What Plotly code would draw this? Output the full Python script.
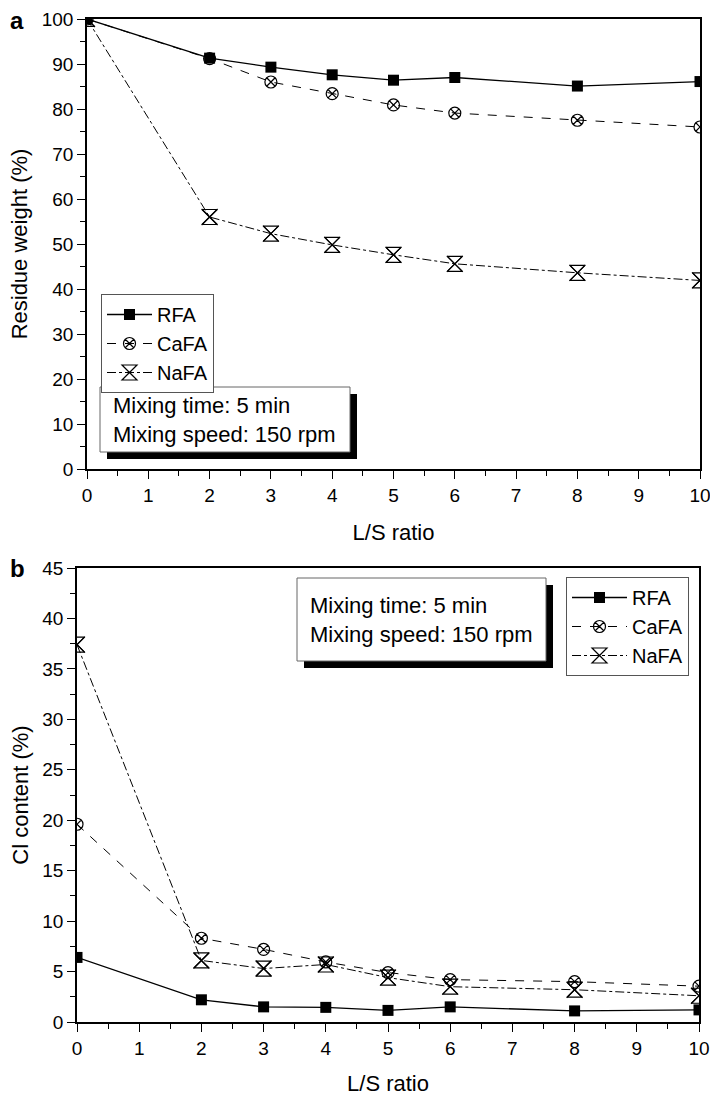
import plotly.graph_objects as go

W, H = 710, 1096

ls_ratio = [0, 2, 3, 4, 5, 6, 8, 10]

# Panel a: residue weight (%)
rw_rfa = [100, 91.3, 89.3, 87.6, 86.4, 87.0, 85.1, 86.1]
rw_cafa = [100, 91.2, 86.0, 83.4, 80.9, 79.1, 77.5, 76.0]
rw_nafa = [100, 56.0, 52.3, 49.8, 47.6, 45.6, 43.6, 41.9]

# Panel b: Cl content (%)
cl_rfa = [6.4, 2.2, 1.5, 1.45, 1.15, 1.5, 1.1, 1.2]
cl_cafa = [19.6, 8.3, 7.2, 5.95, 4.9, 4.2, 4.0, 3.55]
cl_nafa = [37.4, 6.1, 5.3, 5.7, 4.4, 3.5, 3.2, 2.6]

series_names = ["RFA", "CaFA", "NaFA"]
box_lines = ["Mixing time: 5 min", "Mixing speed: 150 rpm"]

FONT = "Liberation Sans Narrow, Liberation Sans, Arial, sans-serif"
FONT2 = "Liberation Sans, Arial, sans-serif"


def px(x):
    return x / W


def py(y):
    return 1 - y / H


fig = go.Figure()


def add_series(xa, ya, vals, legend):
    rfa, cafa, nafa = vals
    fig.add_trace(go.Scatter(
        x=ls_ratio, y=rfa, name=series_names[0], mode="lines+markers",
        xaxis=xa, yaxis=ya, legend=legend,
        line=dict(color="black", width=1.3, dash="solid"),
        marker=dict(symbol="square", size=11, color="black")))
    fig.add_trace(go.Scatter(
        x=ls_ratio, y=cafa, name=series_names[1], mode="lines+markers",
        xaxis=xa, yaxis=ya, legend=legend,
        line=dict(color="black", width=1, dash="dash"),
        marker=dict(symbol="circle-x-open", size=12, color="black",
                    line=dict(width=1.2, color="black"))))
    fig.add_trace(go.Scatter(
        x=ls_ratio, y=nafa, name=series_names[2], mode="lines+markers",
        xaxis=xa, yaxis=ya, legend=legend,
        line=dict(color="black", width=1, dash="dashdot"),
        marker=dict(symbol="hourglass-open", size=15, color="black",
                    line=dict(width=1.2, color="black"))))
    fig.add_trace(go.Scatter(
        x=ls_ratio, y=nafa, mode="markers", showlegend=False,
        xaxis=xa, yaxis=ya, hoverinfo="skip",
        marker=dict(symbol="x-thin-open", size=16, color="black",
                    line=dict(width=1.2, color="black"))))


add_series("x", "y", (rw_rfa, rw_cafa, rw_nafa), "legend")
add_series("x2", "y2", (cl_rfa, cl_cafa, cl_nafa), "legend2")

axis_common = dict(
    showline=True, linecolor="black", linewidth=1.6, mirror=True,
    ticks="outside", ticklen=8, tickwidth=1.3, tickcolor="black",
    showgrid=False, zeroline=False, automargin=False,
    ticklabeloverflow="allow",
    tickfont=dict(family=FONT, size=19, color="black"),
)
minor_common = dict(ticks="outside", ticklen=5, tickcolor="black", tickwidth=1.3)
title_font = dict(family=FONT2, size=22, color="black")
legend_common = dict(xanchor="left", yanchor="top",
                     bgcolor="white", bordercolor="#555", borderwidth=1,
                     font=dict(family=FONT2, size=20, color="black"),
                     tracegroupgap=0)

fig.update_layout(
    width=W, height=H, autosize=False,
    margin=dict(l=0, r=0, t=0, b=0, pad=0, autoexpand=False),
    paper_bgcolor="white", plot_bgcolor="white",
    xaxis=dict(domain=[px(87), px(700)], anchor="y", range=[0, 10],
               dtick=1, tick0=0, minor=dict(dtick=0.5, **minor_common),
               title=dict(text="L/S ratio", font=title_font, standoff=20),
               **axis_common),
    yaxis=dict(domain=[py(469), py(19)], anchor="x", range=[0, 100],
               dtick=10, tick0=0, minor=dict(dtick=5, **minor_common),
               title=dict(text="Residue weight (%)", font=title_font, standoff=8),
               **axis_common),
    xaxis2=dict(domain=[px(77), px(699)], anchor="y2", range=[0, 10],
                dtick=1, tick0=0, minor=dict(dtick=0.5, **minor_common),
                title=dict(text="L/S ratio", font=title_font, standoff=20),
                **axis_common),
    yaxis2=dict(domain=[py(1022), py(568)], anchor="x2", range=[0, 45],
                dtick=5, tick0=0, minor=dict(dtick=2.5, **minor_common),
                title=dict(text="Cl content (%)", font=title_font, standoff=8),
                **axis_common),
    legend=dict(x=px(101), y=py(294), itemwidth=45, **legend_common),
    legend2=dict(x=px(566), y=py(577), itemwidth=55, **legend_common),
    showlegend=True,
)


def text_box(x0, y0, x1, y1, shadow=7):
    fig.add_shape(type="rect", xref="paper", yref="paper",
                  x0=px(x0 + shadow), x1=px(x1 + shadow),
                  y0=py(y1 + shadow), y1=py(y0 + shadow),
                  fillcolor="black", line=dict(width=0), layer="above")
    fig.add_shape(type="rect", xref="paper", yref="paper",
                  x0=px(x0), x1=px(x1), y0=py(y1), y1=py(y0),
                  fillcolor="white", line=dict(color="#666", width=1), layer="above")
    fig.add_annotation(xref="paper", yref="paper",
                       x=px(x0 + 11), y=py((y0 + y1) / 2),
                       xanchor="left", yanchor="middle", align="left",
                       text="<br>".join(box_lines), showarrow=False,
                       font=dict(family=FONT2, size=22, color="black"))


text_box(100, 387, 350, 452)
text_box(297, 578, 546, 661)

fig.add_annotation(xref="paper", yref="paper", x=px(8), y=py(20),
                   xanchor="left", yanchor="middle", text="<b>a</b>",
                   showarrow=False, font=dict(family=FONT2, size=24, color="black"))
fig.add_annotation(xref="paper", yref="paper", x=px(8), y=py(568),
                   xanchor="left", yanchor="middle", text="<b>b</b>",
                   showarrow=False, font=dict(family=FONT2, size=24, color="black"))

fig.write_html("out.html",
               config={"displayModeBar": False, "responsive": False},
               post_script="document.body.style.margin='0';document.body.style.overflow='hidden';")
